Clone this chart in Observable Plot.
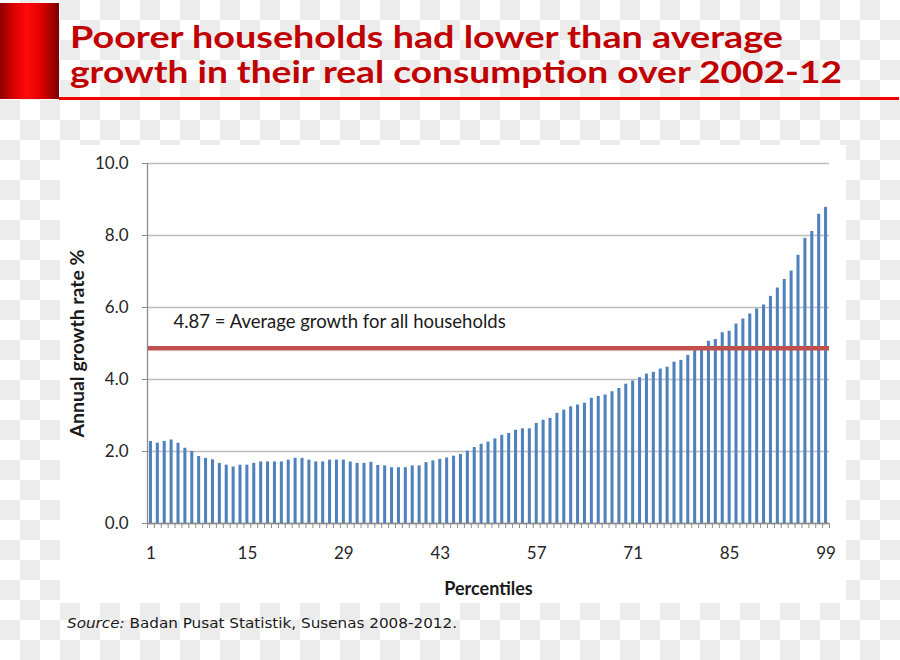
<!DOCTYPE html>
<html>
<head>
<meta charset="utf-8">
<script src="https://cdn.jsdelivr.net/npm/d3@7"></script>
<script src="https://cdn.jsdelivr.net/npm/@observablehq/plot@0.6"></script>
<style>
html, body { margin: 0; padding: 0; }
body {
  width: 900px; height: 660px; overflow: hidden;
  background-color: #fff;
  background-image: repeating-conic-gradient(#ececec 0 25%, #ffffff 0 50%);
  background-size: 40px 40px;
  font-family: Lato, sans-serif;
}
#page { position: relative; width: 900px; height: 660px; }
#block { position: absolute; left: 0; top: 3px; width: 59px; height: 96px;
  background: linear-gradient(to right, #8a0000 0%, #d80000 22%, #ff0a0a 45%, #e00000 70%, #7a0000 100%); }
#rule { position: absolute; left: 59px; top: 97px; width: 840px; height: 2.5px; background: #f00000; }
#title { position: absolute; left: 0; top: 0; }
#chartbox { position: absolute; left: 60px; top: 145px; width: 786px; height: 458px; background: #fff; }
#chartbox svg { display: block; }
#source { position: absolute; left: 0; top: 600px; }
</style>
</head>
<body>
<div id="page">
  <div id="block"></div>
  <div id="rule"></div>
  <svg id="title" width="900" height="100"></svg>
  <div id="chartbox"></div>
  <svg id="source" width="900" height="50"></svg>
</div>
<script>
// ---- data ----
const titleLines = ["Poorer households had lower than average", "growth in their real consumption over 2002-12"];
const growth = [
  2.28, 2.23, 2.28, 2.32, 2.23, 2.09, 2.00, 1.86, 1.81, 1.77,
  1.67, 1.62, 1.57, 1.62, 1.62, 1.67, 1.71, 1.71, 1.71, 1.71,
  1.76, 1.81, 1.81, 1.76, 1.71, 1.71, 1.76, 1.76, 1.76, 1.71,
  1.67, 1.67, 1.70, 1.61, 1.60, 1.55, 1.55, 1.55, 1.60, 1.60,
  1.69, 1.74, 1.78, 1.82, 1.87, 1.92, 2.01, 2.11, 2.20, 2.26,
  2.35, 2.45, 2.50, 2.59, 2.63, 2.63, 2.78, 2.87, 2.92, 3.06,
  3.15, 3.24, 3.29, 3.34, 3.48, 3.53, 3.57, 3.66, 3.75, 3.87,
  3.96, 4.05, 4.15, 4.20, 4.29, 4.34, 4.48, 4.53, 4.67, 4.80,
  4.90, 5.06, 5.11, 5.30, 5.34, 5.54, 5.68, 5.82, 5.96, 6.07,
  6.31, 6.54, 6.78, 7.01, 7.45, 7.92, 8.11, 8.59, 8.78
];
const percentiles = growth.map((_, i) => i + 1);
const xTickLabels = [1, 15, 29, 43, 57, 71, 85, 99];
const yTicks = [0, 2, 4, 6, 8, 10];
const avgGrowth = 4.87;
const avgLabel = "4.87 = Average growth for all households";
const yLabel = "Annual growth rate %";
const xLabel = "Percentiles";
const sourceItalic = "Source:";
const sourceRest = " Badan Pusat Statistik, Susenas 2008-2012.";

const data = percentiles.map((p, i) => ({p, v: growth[i]}));

// ---- title ----
const tsvg = d3.select("#title");
const titleBase = [47.5, 83];
const titleLen = [713, 772];
titleLines.forEach((t, i) => {
  tsvg.append("text")
    .attr("x", 70).attr("y", titleBase[i])
    .attr("font-family", "Lato, sans-serif").attr("font-weight", "bold")
    .attr("font-size", 29.5).attr("fill", "#c00000")
    .attr("textLength", titleLen[i]).attr("lengthAdjust", "spacingAndGlyphs")
    .text(t);
});

// ---- chart ----
const W = 786, H = 458, mL = 87, mR = 17, mT = 18, mB = 80;
const step = (W - mL - mR) / percentiles.length;
const axisGray = "#8c8c8c";
const chart = Plot.plot({
  width: W, height: H,
  marginLeft: mL, marginRight: mR, marginTop: mT, marginBottom: mB,
  style: {fontFamily: "Lato, sans-serif", fontSize: "17px", color: "#262626", background: "white", overflow: "visible"},
  x: {type: "band", domain: percentiles, paddingInner: 0.56, paddingOuter: 0.28, axis: null},
  y: {domain: [0, 10], axis: null},
  marks: [
    Plot.gridY(yTicks, {stroke: "#bdbdbd", strokeOpacity: 1, strokeWidth: 1.3}),
    Plot.barY(data, {x: "p", y: "v", fill: "#4f81bd"}),
    Plot.ruleY([avgGrowth], {stroke: "#c0504d", strokeWidth: 4.5}),
    Plot.ruleY([0], {stroke: axisGray, strokeWidth: 1.3}),
    Plot.ruleX([percentiles[0]], {y1: 0, y2: 10, dx: -step / 2, stroke: axisGray, strokeWidth: 1.3}),
    Plot.ruleX(percentiles, {y1: 0, y2: 0, insetBottom: -5, dx: -step / 2, stroke: axisGray}),
    Plot.ruleX([percentiles[percentiles.length - 1]], {y1: 0, y2: 0, insetBottom: -5, dx: step / 2, stroke: axisGray}),
    Plot.axisY(yTicks, {tickSize: 5, tickPadding: 14, tickFormat: d3.format(".1f"), stroke: axisGray, label: null}),
    Plot.axisX(xTickLabels, {tickSize: 0, tickPadding: 23, label: null}),
    Plot.text([avgLabel], {frameAnchor: "left", y: avgGrowth, dx: 26, dy: -26, textAnchor: "start", fontSize: 18.5, fill: "#1a1a1a"}),
    Plot.text([yLabel], {frameAnchor: "left", rotate: -90, dx: -70, textAnchor: "middle", fontWeight: "bold", fontSize: 19.5, fill: "#1a1a1a"}),
    Plot.text([xLabel], {frameAnchor: "bottom", dy: 71, textAnchor: "middle", fontWeight: "bold", fontSize: 18, fill: "#1a1a1a"})
  ]
});
document.getElementById("chartbox").appendChild(chart);

// ---- source ----
const ssvg = d3.select("#source");
const st = ssvg.append("text")
  .attr("x", 67).attr("y", 28)
  .attr("font-family", "'DejaVu Sans', sans-serif").attr("font-size", 14.5)
  .attr("fill", "#1a1a1a")
  .attr("textLength", 390).attr("lengthAdjust", "spacingAndGlyphs");
st.append("tspan").attr("font-style", "italic").text(sourceItalic);
st.append("tspan").text(sourceRest);
</script>
</body>
</html>
